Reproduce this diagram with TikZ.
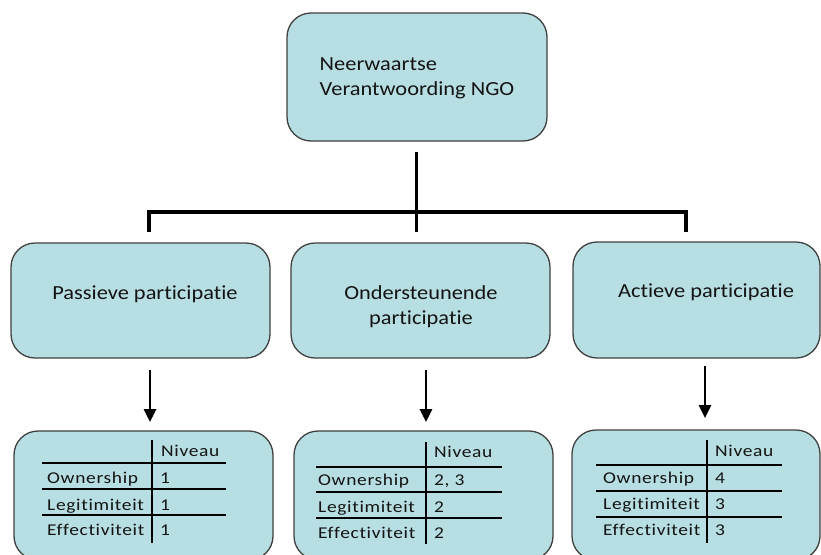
\documentclass[tikz,border=0pt]{standalone}
\usepackage{fontspec}
\setmainfont[Ligatures=NoCommon]{Carlito}
\newfontfamily\boxfont[FakeStretch=1.12,Ligatures=NoCommon]{Carlito}
\newfontfamily\tabfont[FakeStretch=1.18,LetterSpace=4,Ligatures=NoCommon]{Carlito}
\usetikzlibrary{arrows.meta}
\definecolor{boxfill}{RGB}{183,222,226}
\definecolor{boxline}{RGB}{64,64,64}
\definecolor{textcol}{RGB}{20,20,20}
\tikzset{
  panel/.style={draw=boxline, line width=1.3pt, fill=boxfill, rounded corners=24pt},
  link/.style={draw=black, line width=3.2pt},
  downarrow/.style={draw=black, line width=2.8pt, -{Triangle[width=12pt,length=13pt]}},
  label/.style={font=\boxfont\fontsize{20}{25}\selectfont, text=textcol, inner sep=0pt},
  cell/.style={font=\tabfont\fontsize{16.5}{20}\selectfont, text=textcol, inner sep=0pt, anchor=base west},
  rule/.style={draw=black, line width=1.2pt}
}
\begin{document}
\begin{tikzpicture}[x=1pt,y=-1pt]
\useasboundingbox (0,0) rectangle (821,554);
\clip (0,0) rectangle (821,554);

% top box
\filldraw[panel] (287,13) rectangle (547,141);
\node[label, align=left] (top) at (417,78) {Neerwaartse\\Verantwoording NGO};

% tree connector
\coordinate (stem) at (416.5,152);
\coordinate (hub) at (416.5,212);
\coordinate (bl) at (149,212);
\coordinate (br) at (686,212);
\coordinate (tl) at (149,232);
\coordinate (tm) at (416.5,232);
\coordinate (tr) at (686,232);
\draw[link] (stem) -- (tm);
\draw[link] ([xshift=-1.6pt]bl) -- ([xshift=1.6pt]br);
\draw[link] (bl) -- (tl);
\draw[link] (br) -- (tr);

% middle boxes
\filldraw[panel] (11,243) rectangle (270,358);
\filldraw[panel] (291,243) rectangle (550,358);
\filldraw[panel] (573,242) rectangle (820,358);
\node[label] (pas) at (145,294) {Passieve participatie};
\node[label, align=center] (ond) at (421,306.5) {Ondersteunende\\participatie};
\node[label] (act) at (706,292) {Actieve participatie};

% arrows
\coordinate (a1s) at (150,370); \coordinate (a1e) at (150,422);
\coordinate (a2s) at (426,370); \coordinate (a2e) at (426,422);
\coordinate (a3s) at (705,366); \coordinate (a3e) at (705,418);
\draw[downarrow] (a1s) -- (a1e);
\draw[downarrow] (a2s) -- (a2e);
\draw[downarrow] (a3s) -- (a3e);

% bottom boxes
\filldraw[panel] (14,431) rectangle (273,560);
\filldraw[panel] (294,431) rectangle (553,560);
\filldraw[panel] (572,430) rectangle (820,560);

% left table
\draw[rule] (152,440) -- (152,543);
\draw[rule] (42,463) -- (226,463);
\draw[rule] (42,489) -- (226,489);
\draw[rule] (42,515) -- (226,515);
\node[cell] (l0) at (161,456) {Niveau};
\node[cell] (l1) at (47,483) {Ownership};
\node[cell] (l2) at (47,510) {Legitimiteit};
\node[cell] (l3) at (47,535) {Effectiviteit};
\node[cell] (l1v) at (160,483) {1};
\node[cell] (l2v) at (160,510) {1};
\node[cell] (l3v) at (160,535) {1};

% middle table
\draw[rule] (426,442) -- (426,544);
\draw[rule] (316,467) -- (502,467);
\draw[rule] (316,492) -- (502,492);
\draw[rule] (316,518) -- (502,518);
\node[cell] (m0) at (434,457) {Niveau};
\node[cell] (m1) at (318,485) {Ownership};
\node[cell] (m2) at (318,512) {Legitimiteit};
\node[cell] (m3) at (318,538) {Effectiviteit};
\node[cell] (m1v) at (434,485) {2, 3};
\node[cell] (m2v) at (434,512) {2};
\node[cell] (m3v) at (434,538) {2};

% right table
\draw[rule] (707,440) -- (707,543);
\draw[rule] (596,465) -- (782,465);
\draw[rule] (596,491) -- (782,491);
\draw[rule] (596,517) -- (782,517);
\node[cell] (r0) at (715,456) {Niveau};
\node[cell] (r1) at (603,483) {Ownership};
\node[cell] (r2) at (603,509) {Legitimiteit};
\node[cell] (r3) at (603,535) {Effectiviteit};
\node[cell] (r1v) at (715,483) {4};
\node[cell] (r2v) at (715,509) {3};
\node[cell] (r3v) at (715,535) {3};
\end{tikzpicture}
\end{document}
